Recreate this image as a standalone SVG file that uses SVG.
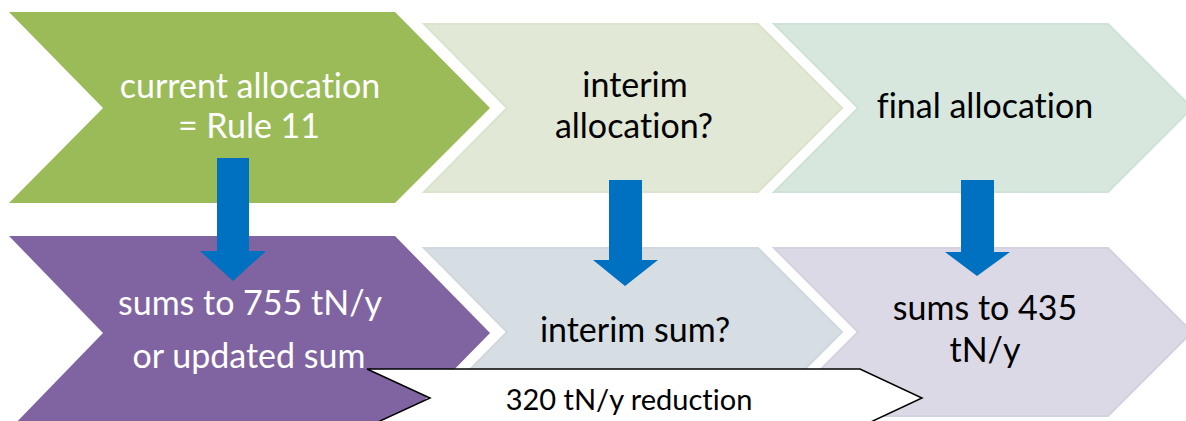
<svg xmlns="http://www.w3.org/2000/svg" width="1186" height="421" viewBox="0 0 1186 421">
<style>
.t{font-family:Lato,"Open Sans","Liberation Sans",sans-serif;font-size:34px;text-anchor:middle;font-variant-ligatures:none;font-feature-settings:"liga" 0}
.w{fill:#ffffff}
.k{fill:#000000}
.s{font-size:29px}
.blue{fill:#0070C0}
</style>
<rect width="1186" height="421" fill="#ffffff"/>
<g id="current-allocation">
<polygon points="9,12 395,12 490,108 395,203 9,203 103,108" fill="#9BBB59"/>
<text class="t w" x="250" y="98">current allocation</text>
<text class="t w" x="249" y="138">= Rule 11</text>
</g>
<g id="interim-allocation">
<polygon points="424,24 758,24 842,108 758,192 424,192 507,108" fill="#E1E8D5" stroke="#DAE3CC" stroke-width="2"/>
<text class="t k" x="635" y="97">interim</text>
<text class="t k" x="634" y="138">allocation?</text>
</g>
<g id="final-allocation">
<polygon points="774,24 1108,24 1192,108 1108,192 774,192 858,108" fill="#D7E7DE" stroke="#CFE2D6" stroke-width="2"/>
<text class="t k" x="985" y="118">final allocation</text>
</g>
<g id="sum-current">
<polygon points="9,236 395,236 490,333 395,430 9,430 103,333" fill="#8064A2"/>
<text class="t w" x="250" y="315">sums to 755 tN/y</text>
<text class="t w" x="249" y="368">or updated sum</text>
</g>
<g id="sum-interim">
<polygon points="424,248 758,248 842,332 758,416 424,416 507,332" fill="#D6DEE4" stroke="#CFD8DF" stroke-width="2"/>
<text class="t k" x="635" y="342">interim sum?</text>
</g>
<g id="sum-final">
<polygon points="774,248 1108,248 1192,332 1108,416 774,416 858,332" fill="#DCD9E6" stroke="#D5D1E1" stroke-width="2"/>
<text class="t k" x="985" y="320">sums to 435</text>
<text class="t k" x="985" y="362">tN/y</text>
</g>
<g id="connectors">
<polygon class="blue" points="217,158 249,158 249,251 266,251 233,281 200,251 217,251"/>
<polygon class="blue" points="609,180 642,180 642,260 658,260 625,286 593,260 609,260"/>
<polygon class="blue" points="961,180 994,180 994,252 1010,252 977,276 945,252 961,252"/>
</g>
<g id="reduction">
<polygon points="367,369 860,369 922,398 860,427 367,427 430,398" fill="#ffffff" stroke="#000000" stroke-width="1.5"/>
<text class="t k s" x="629" y="410">320 tN/y reduction</text>
</g>
</svg>
